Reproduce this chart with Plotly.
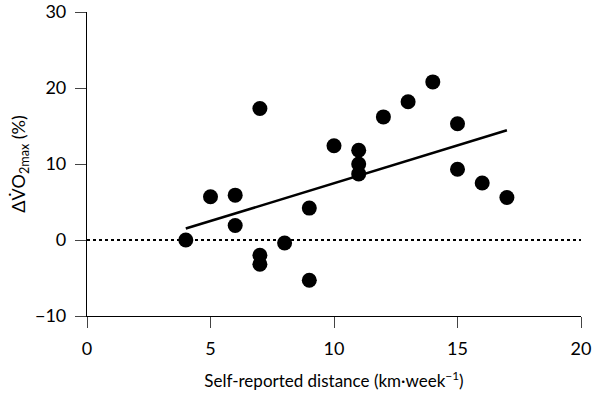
import numpy as np
import plotly.graph_objects as go

distance = [4, 5, 6, 6, 7, 7, 7, 8, 9, 9, 10, 11, 11, 11, 12, 13, 14, 15, 15, 16, 17]
delta_vo2 = [0.0, 5.7, 5.9, 1.9, 17.3, -2.0, -3.2, -0.4, 4.2, -5.3, 12.4, 11.8, 10.0, 8.7, 16.2, 18.2, 20.8, 15.3, 9.3, 7.5, 5.6]
x_ticks = [0, 5, 10, 15, 20]
y_ticks = [-10, 0, 10, 20, 30]

slope, intercept = np.polyfit(distance, delta_vo2, 1)
fit_x = [min(distance), max(distance)]
fit_y = [slope * v + intercept for v in fit_x]

font_family = "Lato, 'Open Sans', sans-serif"

fig = go.Figure()
fig.add_trace(go.Scatter(x=[0, 20], y=[0, 0], mode="lines",
                         line=dict(color="black", width=2, dash="dot"),
                         hoverinfo="skip", showlegend=False))
fig.add_trace(go.Scatter(x=fit_x, y=fit_y, mode="lines",
                         line=dict(color="black", width=2.5), showlegend=False))
fig.add_trace(go.Scatter(x=distance, y=delta_vo2, mode="markers",
                         marker=dict(color="black", size=15), showlegend=False))

fig.update_layout(
    width=594, height=395,
    margin=dict(l=87, r=13, t=12, b=79),
    plot_bgcolor="white", paper_bgcolor="white",
    font=dict(family=font_family, size=18, color="black"),
    xaxis=dict(range=[0, 20], tickvals=x_ticks, ticks="outside", ticklen=11, tickwidth=1.2,
               showline=True, linecolor="black", linewidth=1.2, showgrid=False, zeroline=False,
               automargin=False, tickfont=dict(size=18), ticklabelstandoff=5,
               title=dict(text="Self-reported distance (km·week<sup>−1</sup>)", standoff=17,
                          font=dict(size=17))),
    yaxis=dict(range=[-10, 30], tickvals=y_ticks, ticktext=["−10", "0", "10", "20", "30"],
               ticks="outside", ticklen=11, tickwidth=1.2, automargin=False, tickfont=dict(size=18),
               ticklabelstandoff=5,
               showline=True, linecolor="black", linewidth=1.2, showgrid=False, zeroline=False,
               title=dict(text="ΔV̇O<sub>2max</sub> (%)", standoff=4, font=dict(size=18))),
)
fig.write_html("out.html", config={"displayModeBar": False},
               post_script="document.body.style.margin='0';")
